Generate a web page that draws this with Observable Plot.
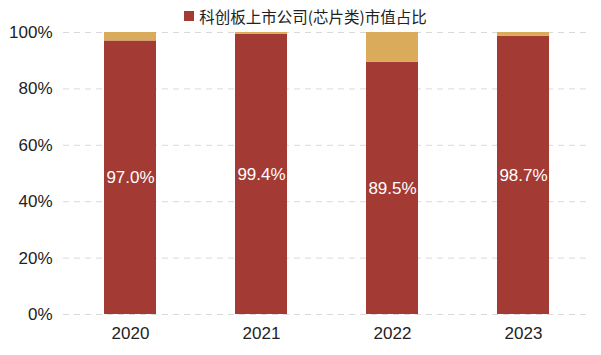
<!DOCTYPE html>
<html><head><meta charset="utf-8">
<script src="https://cdn.jsdelivr.net/npm/d3@7"></script>
<script src="https://cdn.jsdelivr.net/npm/@observablehq/plot@0.6"></script>
<style>
body{margin:0;background:#fff;font-family:"Liberation Sans","Noto Sans CJK SC",sans-serif;}
#legend{height:20px;padding-top:6px;display:flex;justify-content:center;align-items:center;font-size:15.5px;color:#222;font-family:"Noto Sans CJK SC",sans-serif;padding-left:10px;box-sizing:content-box;line-height:20px;}
#legend span.sw{display:inline-block;width:10px;height:10px;background:#A33A33;margin-right:5px;}
</style>
</head><body>
<div id="legend"><span class="sw"></span><span>科创板上市公司(芯片类)市值占比</span></div>
<div id="chart"></div>
<script>
const years = ["2020","2021","2022","2023"];
const chipShare = [97.0, 99.4, 89.5, 98.7];
const seriesNames = ["芯片类", "其他"];
const yTicks = [0, 20, 40, 60, 80, 100];

const red = "#A33A33", gold = "#D9AB5A";
const rows = [];
years.forEach((y, i) => {
  rows.push({year: y, series: seriesNames[0], value: chipShare[i]});
  rows.push({year: y, series: seriesNames[1], value: +(100 - chipShare[i]).toFixed(1)});
});
const labels = years.map((y, i) => ({year: y, value: chipShare[i], mid: chipShare[i] / 2}));

const plot = Plot.plot({
  width: 601,
  height: 329,
  marginTop: 6,
  marginBottom: 41,
  marginLeft: 63,
  marginRight: 11,
  style: {fontFamily: "Liberation Sans, Noto Sans CJK SC, sans-serif", fontSize: "17px", color: "#222", background: "#fff", overflow: "visible"},
  x: {domain: years, paddingInner: 0.6, paddingOuter: 0.3, label: null, tickSize: 0, tickPadding: 12},
  y: {domain: [0, 100], ticks: yTicks, tickFormat: d => d + "%", label: null, tickSize: 0, tickPadding: 11},
  color: {domain: seriesNames, range: [red, gold]},
  marks: [
    Plot.gridY(yTicks, {stroke: "#d9d9d9", strokeOpacity: 1, strokeDasharray: "6,5", strokeWidth: 1}),
    Plot.barY(rows, {x: "year", y: "value", fill: "series", order: seriesNames}),
    Plot.text(labels, {x: "year", y: "mid", text: d => d.value.toFixed(1) + "%", fill: "#fff", fontSize: 17})
  ]
});
document.getElementById("chart").appendChild(plot);
</script>
</body></html>
